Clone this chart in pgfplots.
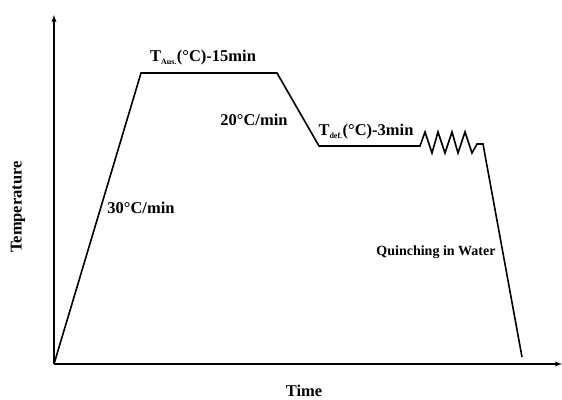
\documentclass[border=0pt]{standalone}
\usepackage{pgfplots}
\pgfplotsset{compat=1.18}
\usepackage{fontspec}
\setmainfont{Liberation Serif}
\begin{document}
\begin{tikzpicture}
\begin{axis}[
  at={(0,0)}, anchor=south west,
  x=1pt, y=1pt,
  xmin=0, xmax=508, ymin=0, ymax=349,
  axis lines=left,
  axis line style={line width=1.3pt, -latex},
  xtick=\empty, ytick=\empty,
  clip=false,
  font=\bfseries\fontsize{16.5}{19}\selectfont,
]
\addplot[black, line width=1.6pt, line join=miter] coordinates {
(0,0) (87,291) (223,291) (265,218) (366,218)
(371,232) (378,211) (384,232) (391,211) (398,232) (404,211) (411,232) (418,211)
(423,220) (429,220) (468,7)
};
\node at (axis cs:149,306) {T\textsubscript{\fontsize{8}{9}\selectfont Aus.}(°C)-15min};
\node at (axis cs:200,244) {20°C/min};
\node at (axis cs:312,232) {T\textsubscript{\fontsize{8}{9}\selectfont def.}(°C)-3min};
\node at (axis cs:87,156) {30°C/min};
\node[font=\bfseries\fontsize{14}{16}\selectfont] at (axis cs:382,112) {Quinching in Water};
\node at (axis cs:250,-27) {Time};
\node[rotate=90] at (axis cs:-36,157) {Temperature};
\end{axis}
\pgfresetboundingbox
\path (-54pt,-35pt) rectangle (508pt,364pt);
\end{tikzpicture}
\end{document}
